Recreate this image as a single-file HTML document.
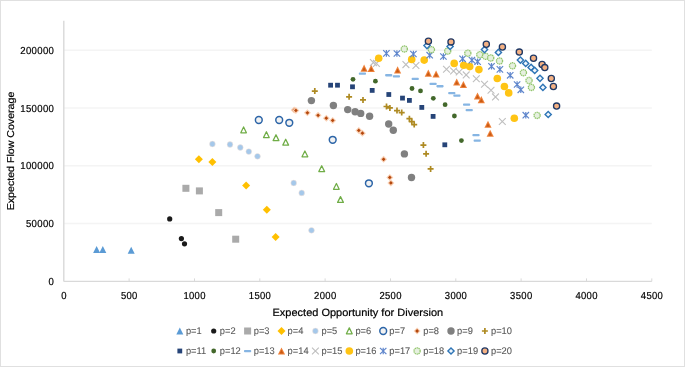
<!DOCTYPE html>
<html><head><meta charset="utf-8"><style>
html,body{margin:0;padding:0;background:#fff;}
body{width:685px;height:367px;overflow:hidden;}
svg{display:block;will-change:transform;text-rendering:geometricPrecision;font-family:"Liberation Sans",sans-serif;}
</style></head><body>
<svg width="685" height="367" viewBox="0 0 685 367">
<rect x="0" y="0" width="685" height="367" fill="#fff"/>
<rect x="0.5" y="0.5" width="684" height="366" fill="none" stroke="#E0E0E0" stroke-width="1"/>
<line x1="63.8" y1="223.6" x2="651.8" y2="223.6" stroke="#F4F4F4" stroke-width="1.5"/>
<line x1="63.8" y1="165.8" x2="651.8" y2="165.8" stroke="#F4F4F4" stroke-width="1.5"/>
<line x1="63.8" y1="108" x2="651.8" y2="108" stroke="#F4F4F4" stroke-width="1.5"/>
<line x1="63.8" y1="50.2" x2="651.8" y2="50.2" stroke="#F4F4F4" stroke-width="1.5"/>
<line x1="63.8" y1="20.8" x2="63.8" y2="281.4" stroke="#D9D9D9" stroke-width="1.4"/>
<line x1="63.8" y1="281.4" x2="651.8" y2="281.4" stroke="#D9D9D9" stroke-width="1.4"/>
<line x1="129.1" y1="278.4" x2="129.1" y2="281.4" stroke="#D9D9D9" stroke-width="1"/>
<line x1="194.5" y1="278.4" x2="194.5" y2="281.4" stroke="#D9D9D9" stroke-width="1"/>
<line x1="259.8" y1="278.4" x2="259.8" y2="281.4" stroke="#D9D9D9" stroke-width="1"/>
<line x1="325.1" y1="278.4" x2="325.1" y2="281.4" stroke="#D9D9D9" stroke-width="1"/>
<line x1="390.5" y1="278.4" x2="390.5" y2="281.4" stroke="#D9D9D9" stroke-width="1"/>
<line x1="455.8" y1="278.4" x2="455.8" y2="281.4" stroke="#D9D9D9" stroke-width="1"/>
<line x1="521.1" y1="278.4" x2="521.1" y2="281.4" stroke="#D9D9D9" stroke-width="1"/>
<line x1="586.5" y1="278.4" x2="586.5" y2="281.4" stroke="#D9D9D9" stroke-width="1"/>
<line x1="651.8" y1="278.4" x2="651.8" y2="281.4" stroke="#D9D9D9" stroke-width="1"/>
<g font-size="10.2" fill="#000" stroke="#000" stroke-width="0.2" letter-spacing="0.35">
<text transform="translate(54.2 284.9) scale(0.94 1)" text-anchor="end">0</text>
<text transform="translate(54.2 227.1) scale(0.94 1)" text-anchor="end">50000</text>
<text transform="translate(54.2 169.3) scale(0.94 1)" text-anchor="end">100000</text>
<text transform="translate(54.2 111.5) scale(0.94 1)" text-anchor="end">150000</text>
<text transform="translate(54.2 53.7) scale(0.94 1)" text-anchor="end">200000</text>
<text transform="translate(64 298.7) scale(0.93 1)" text-anchor="middle">0</text>
<text transform="translate(129.3 298.7) scale(0.93 1)" text-anchor="middle">500</text>
<text transform="translate(194.6 298.7) scale(0.93 1)" text-anchor="middle">1000</text>
<text transform="translate(260 298.7) scale(0.93 1)" text-anchor="middle">1500</text>
<text transform="translate(325.3 298.7) scale(0.93 1)" text-anchor="middle">2000</text>
<text transform="translate(390.6 298.7) scale(0.93 1)" text-anchor="middle">2500</text>
<text transform="translate(456 298.7) scale(0.93 1)" text-anchor="middle">3000</text>
<text transform="translate(521.3 298.7) scale(0.93 1)" text-anchor="middle">3500</text>
<text transform="translate(586.6 298.7) scale(0.93 1)" text-anchor="middle">4000</text>
<text transform="translate(652 298.7) scale(0.93 1)" text-anchor="middle">4500</text>
</g>
<text transform="translate(357.8 316.3) scale(1.048 1)" text-anchor="middle" font-size="10.5" fill="#000" stroke="#000" stroke-width="0.2">Expected Opportunity for Diversion</text>
<text transform="translate(14.1 151.0) rotate(-90) scale(1.062 1)" text-anchor="middle" font-size="10.0" fill="#000" stroke="#000" stroke-width="0.2">Expected Flow Coverage</text>
<path d="M96.6 246.1L100.1 253L93.1 253Z" fill="#5B9BD5"/>
<path d="M102.8 246.1L106.3 253L99.3 253Z" fill="#5B9BD5"/>
<path d="M131.2 246.8L134.7 253.7L127.7 253.7Z" fill="#5B9BD5"/>
<circle cx="169.7" cy="218.9" r="2.6" fill="#1a1a1a"/>
<circle cx="181.4" cy="238.6" r="2.6" fill="#1a1a1a"/>
<circle cx="184.5" cy="243.8" r="2.6" fill="#1a1a1a"/>
<rect x="182.4" y="184.8" width="7" height="7" fill="#AAAAAA"/>
<rect x="195.9" y="187.4" width="7" height="7" fill="#AAAAAA"/>
<rect x="215.2" y="209.1" width="7" height="7" fill="#AAAAAA"/>
<rect x="232.2" y="235.7" width="7" height="7" fill="#AAAAAA"/>
<path d="M198.9 155.3L202.9 159.3L198.9 163.3L194.9 159.3Z" fill="#FFC000"/>
<path d="M212.4 158L216.4 162L212.4 166L208.4 162Z" fill="#FFC000"/>
<path d="M246.1 181.5L250.1 185.5L246.1 189.5L242.1 185.5Z" fill="#FFC000"/>
<path d="M266.8 205.8L270.8 209.8L266.8 213.8L262.8 209.8Z" fill="#FFC000"/>
<path d="M275.6 233.1L279.6 237.1L275.6 241.1L271.6 237.1Z" fill="#FFC000"/>
<circle cx="212.4" cy="144" r="2.9" fill="#A5C8EA" stroke="#F8E4D8" stroke-width="0.5"/>
<circle cx="230" cy="144.5" r="2.9" fill="#A5C8EA" stroke="#F8E4D8" stroke-width="0.5"/>
<circle cx="240.3" cy="147.5" r="2.9" fill="#A5C8EA" stroke="#F8E4D8" stroke-width="0.5"/>
<circle cx="248.8" cy="151.6" r="2.9" fill="#A5C8EA" stroke="#F8E4D8" stroke-width="0.5"/>
<circle cx="257.5" cy="156.3" r="2.9" fill="#A5C8EA" stroke="#F8E4D8" stroke-width="0.5"/>
<circle cx="293.7" cy="183" r="2.9" fill="#A5C8EA" stroke="#F8E4D8" stroke-width="0.5"/>
<circle cx="301.7" cy="192.9" r="2.9" fill="#A5C8EA" stroke="#F8E4D8" stroke-width="0.5"/>
<circle cx="311.5" cy="230.3" r="2.9" fill="#A5C8EA" stroke="#F8E4D8" stroke-width="0.5"/>
<path d="M243.6 126.9L246.4 132.8L240.8 132.8Z" fill="#fff" stroke="#70AD47" stroke-width="1.25" stroke-linejoin="round"/>
<path d="M266.4 131.7L269.2 137.6L263.5 137.6Z" fill="#fff" stroke="#70AD47" stroke-width="1.25" stroke-linejoin="round"/>
<path d="M276 134.7L278.9 140.6L273.1 140.6Z" fill="#fff" stroke="#70AD47" stroke-width="1.25" stroke-linejoin="round"/>
<path d="M285.7 139.2L288.6 145.1L282.8 145.1Z" fill="#fff" stroke="#70AD47" stroke-width="1.25" stroke-linejoin="round"/>
<path d="M304.9 151L307.8 156.8L302 156.8Z" fill="#fff" stroke="#70AD47" stroke-width="1.25" stroke-linejoin="round"/>
<path d="M321.7 165.7L324.6 171.6L318.8 171.6Z" fill="#fff" stroke="#70AD47" stroke-width="1.25" stroke-linejoin="round"/>
<path d="M336.4 183.5L339.2 189.3L333.5 189.3Z" fill="#fff" stroke="#70AD47" stroke-width="1.25" stroke-linejoin="round"/>
<path d="M340.5 196.6L343.4 202.4L337.6 202.4Z" fill="#fff" stroke="#70AD47" stroke-width="1.25" stroke-linejoin="round"/>
<circle cx="258.8" cy="120" r="3.4" fill="#F2F2F2" stroke="#2C65A8" stroke-width="1.5"/>
<circle cx="279.2" cy="120" r="3.4" fill="#F2F2F2" stroke="#2C65A8" stroke-width="1.5"/>
<circle cx="289.3" cy="122.8" r="3.4" fill="#F2F2F2" stroke="#2C65A8" stroke-width="1.5"/>
<circle cx="332.7" cy="139.8" r="3.4" fill="#F2F2F2" stroke="#2C65A8" stroke-width="1.5"/>
<circle cx="368.9" cy="183.3" r="3.4" fill="#F2F2F2" stroke="#2C65A8" stroke-width="1.5"/>
<path d="M294.2 106.6L297.7 110.1L294.2 113.6L290.7 110.1Z" fill="#F9D0B4"/><path d="M294.2 108.2L296.1 110.1L294.2 112L292.3 110.1Z" fill="#B4470C"/>
<path d="M295.9 106.9L299.4 110.4L295.9 113.9L292.4 110.4Z" fill="#F9D0B4"/><path d="M295.9 108.5L297.8 110.4L295.9 112.3L294 110.4Z" fill="#B4470C"/>
<path d="M307.4 109.3L310.9 112.8L307.4 116.3L303.9 112.8Z" fill="#F9D0B4"/><path d="M307.4 110.9L309.3 112.8L307.4 114.7L305.5 112.8Z" fill="#B4470C"/>
<path d="M318.1 111.8L321.6 115.3L318.1 118.8L314.6 115.3Z" fill="#F9D0B4"/><path d="M318.1 113.4L320 115.3L318.1 117.2L316.2 115.3Z" fill="#B4470C"/>
<path d="M326.3 114.7L329.8 118.2L326.3 121.7L322.8 118.2Z" fill="#F9D0B4"/><path d="M326.3 116.3L328.2 118.2L326.3 120.1L324.4 118.2Z" fill="#B4470C"/>
<path d="M332.7 116.9L336.2 120.4L332.7 123.9L329.2 120.4Z" fill="#F9D0B4"/><path d="M332.7 118.5L334.6 120.4L332.7 122.3L330.8 120.4Z" fill="#B4470C"/>
<path d="M358.8 126.9L362.3 130.4L358.8 133.9L355.3 130.4Z" fill="#F9D0B4"/><path d="M358.8 128.5L360.7 130.4L358.8 132.3L356.9 130.4Z" fill="#B4470C"/>
<path d="M362.4 129.7L365.9 133.2L362.4 136.7L358.9 133.2Z" fill="#F9D0B4"/><path d="M362.4 131.3L364.3 133.2L362.4 135.1L360.5 133.2Z" fill="#B4470C"/>
<path d="M383.6 155.8L387.1 159.3L383.6 162.8L380.1 159.3Z" fill="#F9D0B4"/><path d="M383.6 157.4L385.5 159.3L383.6 161.2L381.7 159.3Z" fill="#B4470C"/>
<path d="M389.8 173.9L393.3 177.4L389.8 180.9L386.3 177.4Z" fill="#F9D0B4"/><path d="M389.8 175.5L391.7 177.4L389.8 179.3L387.9 177.4Z" fill="#B4470C"/>
<path d="M390.9 179.4L394.4 182.9L390.9 186.4L387.4 182.9Z" fill="#F9D0B4"/><path d="M390.9 181L392.8 182.9L390.9 184.8L389 182.9Z" fill="#B4470C"/>
<circle cx="311.4" cy="100.6" r="3.7" fill="#808080"/>
<circle cx="333.4" cy="105.5" r="3.7" fill="#808080"/>
<circle cx="347.7" cy="109.6" r="3.7" fill="#808080"/>
<circle cx="355.1" cy="111.7" r="3.7" fill="#808080"/>
<circle cx="360.7" cy="113.4" r="3.7" fill="#808080"/>
<circle cx="369.6" cy="116.2" r="3.7" fill="#808080"/>
<circle cx="388.7" cy="124" r="3.7" fill="#808080"/>
<circle cx="393.3" cy="130.3" r="3.7" fill="#808080"/>
<circle cx="404.4" cy="153.9" r="3.7" fill="#808080"/>
<circle cx="411.5" cy="177.5" r="3.7" fill="#808080"/>
<path d="M311.8 91.1H317.8M314.8 88.1V94.1" stroke="#AE8A22" stroke-width="1.7"/>
<path d="M346.1 96.8H352.1M349.1 93.8V99.8" stroke="#AE8A22" stroke-width="1.7"/>
<path d="M360 99.9H366M363 96.9V102.9" stroke="#AE8A22" stroke-width="1.7"/>
<path d="M383.5 106.5H389.5M386.5 103.5V109.5" stroke="#AE8A22" stroke-width="1.7"/>
<path d="M386.9 107.9H392.9M389.9 104.9V110.9" stroke="#AE8A22" stroke-width="1.7"/>
<path d="M394 110.6H400M397 107.6V113.6" stroke="#AE8A22" stroke-width="1.7"/>
<path d="M398.7 112.6H404.7M401.7 109.6V115.6" stroke="#AE8A22" stroke-width="1.7"/>
<path d="M406.4 118.7H412.4M409.4 115.7V121.7" stroke="#AE8A22" stroke-width="1.7"/>
<path d="M408.8 121.6H414.8M411.8 118.6V124.6" stroke="#AE8A22" stroke-width="1.7"/>
<path d="M411.2 124.6H417.2M414.2 121.6V127.6" stroke="#AE8A22" stroke-width="1.7"/>
<path d="M420.4 145.1H426.4M423.4 142.1V148.1" stroke="#AE8A22" stroke-width="1.7"/>
<path d="M423.1 153.8H429.1M426.1 150.8V156.8" stroke="#AE8A22" stroke-width="1.7"/>
<path d="M427.6 168.9H433.6M430.6 165.9V171.9" stroke="#AE8A22" stroke-width="1.7"/>
<rect x="328.2" y="82.8" width="4.8" height="4.8" fill="#264478"/>
<rect x="335.1" y="82.8" width="4.8" height="4.8" fill="#264478"/>
<rect x="350.1" y="84.4" width="4.8" height="4.8" fill="#264478"/>
<rect x="369.8" y="88" width="4.8" height="4.8" fill="#264478"/>
<rect x="386.4" y="92.1" width="4.8" height="4.8" fill="#264478"/>
<rect x="400.1" y="95.7" width="4.8" height="4.8" fill="#264478"/>
<rect x="407" y="98" width="4.8" height="4.8" fill="#264478"/>
<rect x="419.4" y="105" width="4.8" height="4.8" fill="#264478"/>
<rect x="430.7" y="114" width="4.8" height="4.8" fill="#264478"/>
<rect x="442.4" y="142.4" width="4.8" height="4.8" fill="#264478"/>
<circle cx="353" cy="79.3" r="2.4" fill="#43682B"/>
<circle cx="375.4" cy="81.2" r="2.4" fill="#43682B"/>
<circle cx="412" cy="88.5" r="2.4" fill="#43682B"/>
<circle cx="420.5" cy="90.9" r="2.4" fill="#43682B"/>
<circle cx="433.3" cy="98.3" r="2.4" fill="#43682B"/>
<circle cx="445.1" cy="104.7" r="2.4" fill="#43682B"/>
<circle cx="454.4" cy="116" r="2.4" fill="#43682B"/>
<circle cx="461.4" cy="140.6" r="2.4" fill="#43682B"/>
<rect x="358.8" y="72.5" width="7.2" height="2.3" rx="0.8" fill="#86B5E3"/>
<rect x="385.1" y="74.1" width="7.2" height="2.3" rx="0.8" fill="#86B5E3"/>
<rect x="392.8" y="75.2" width="7.2" height="2.3" rx="0.8" fill="#86B5E3"/>
<rect x="411.6" y="77.8" width="7.2" height="2.3" rx="0.8" fill="#86B5E3"/>
<rect x="429.5" y="82.8" width="7.2" height="2.3" rx="0.8" fill="#86B5E3"/>
<rect x="436.4" y="85.1" width="7.2" height="2.3" rx="0.8" fill="#86B5E3"/>
<rect x="448.2" y="92" width="7.2" height="2.3" rx="0.8" fill="#86B5E3"/>
<rect x="453.3" y="94.5" width="7.2" height="2.3" rx="0.8" fill="#86B5E3"/>
<rect x="463" y="103.4" width="7.2" height="2.3" rx="0.8" fill="#86B5E3"/>
<rect x="465.6" y="109" width="7.2" height="2.3" rx="0.8" fill="#86B5E3"/>
<rect x="472.4" y="133.9" width="7.2" height="2.3" rx="0.8" fill="#86B5E3"/>
<rect x="473.6" y="139.4" width="7.2" height="2.3" rx="0.8" fill="#86B5E3"/>
<path d="M364.1 64.6L367.7 71.7L360.5 71.7Z" fill="#EE8038"/><path d="M364.1 67L366 70.7L362.2 70.7Z" fill="#C95A14"/>
<path d="M371.2 64.8L374.8 71.9L367.6 71.9Z" fill="#EE8038"/><path d="M371.2 67.2L373.1 70.9L369.3 70.9Z" fill="#C95A14"/>
<path d="M397.6 66.3L401.2 73.4L394 73.4Z" fill="#EE8038"/><path d="M397.6 68.7L399.5 72.4L395.7 72.4Z" fill="#C95A14"/>
<path d="M428.3 69.6L431.9 76.7L424.7 76.7Z" fill="#EE8038"/><path d="M428.3 72L430.2 75.7L426.4 75.7Z" fill="#C95A14"/>
<path d="M436.1 70.4L439.7 77.5L432.5 77.5Z" fill="#EE8038"/><path d="M436.1 72.8L438 76.5L434.2 76.5Z" fill="#C95A14"/>
<path d="M456.7 78.5L460.3 85.6L453.1 85.6Z" fill="#EE8038"/><path d="M456.7 80.9L458.6 84.6L454.8 84.6Z" fill="#C95A14"/>
<path d="M463.4 80.9L467 88L459.8 88Z" fill="#EE8038"/><path d="M463.4 83.3L465.3 87L461.5 87Z" fill="#C95A14"/>
<path d="M477.5 92.5L481.1 99.6L473.9 99.6Z" fill="#EE8038"/><path d="M477.5 94.9L479.4 98.6L475.6 98.6Z" fill="#C95A14"/>
<path d="M481.3 96.1L484.9 103.2L477.7 103.2Z" fill="#EE8038"/><path d="M481.3 98.5L483.2 102.2L479.4 102.2Z" fill="#C95A14"/>
<path d="M488 120.7L491.6 127.8L484.4 127.8Z" fill="#EE8038"/><path d="M488 123.1L489.9 126.8L486.1 126.8Z" fill="#C95A14"/>
<path d="M490.2 129.7L493.8 136.8L486.6 136.8Z" fill="#EE8038"/><path d="M490.2 132.1L492.1 135.8L488.3 135.8Z" fill="#C95A14"/>
<path d="M370 59.2L376.8 66M376.8 59.2L370 66" stroke="#BFBFBF" stroke-width="1.1"/>
<path d="M373 60L379.8 66.8M379.8 60L373 66.8" stroke="#BFBFBF" stroke-width="1.1"/>
<path d="M402.5 61.2L409.3 68M409.3 61.2L402.5 68" stroke="#BFBFBF" stroke-width="1.1"/>
<path d="M412.5 62.1L419.3 68.9M419.3 62.1L412.5 68.9" stroke="#BFBFBF" stroke-width="1.1"/>
<path d="M443.1 65.8L449.9 72.6M449.9 65.8L443.1 72.6" stroke="#BFBFBF" stroke-width="1.1"/>
<path d="M450.2 67.6L457 74.4M457 67.6L450.2 74.4" stroke="#BFBFBF" stroke-width="1.1"/>
<path d="M455.8 68.6L462.6 75.4M462.6 68.6L455.8 75.4" stroke="#BFBFBF" stroke-width="1.1"/>
<path d="M462.8 71.5L469.6 78.3M469.6 71.5L462.8 78.3" stroke="#BFBFBF" stroke-width="1.1"/>
<path d="M472.9 75.3L479.7 82.1M479.7 75.3L472.9 82.1" stroke="#BFBFBF" stroke-width="1.1"/>
<path d="M481.1 80.8L487.9 87.6M487.9 80.8L481.1 87.6" stroke="#BFBFBF" stroke-width="1.1"/>
<path d="M487.6 86.9L494.4 93.7M494.4 86.9L487.6 93.7" stroke="#BFBFBF" stroke-width="1.1"/>
<path d="M492.1 93.5L498.9 100.3M498.9 93.5L492.1 100.3" stroke="#BFBFBF" stroke-width="1.1"/>
<path d="M498.9 118.1L505.7 124.9M505.7 118.1L498.9 124.9" stroke="#BFBFBF" stroke-width="1.1"/>
<circle cx="378.7" cy="58.3" r="3.8" fill="#FFC414"/>
<circle cx="411.7" cy="59.4" r="3.8" fill="#FFC414"/>
<circle cx="424.2" cy="60.1" r="3.8" fill="#FFC414"/>
<circle cx="454.2" cy="63.4" r="3.8" fill="#FFC414"/>
<circle cx="463.7" cy="65.2" r="3.8" fill="#FFC414"/>
<circle cx="469.7" cy="66.6" r="3.8" fill="#FFC414"/>
<circle cx="478.9" cy="69.6" r="3.8" fill="#FFC414"/>
<circle cx="497.3" cy="78.5" r="3.8" fill="#FFC414"/>
<circle cx="504.4" cy="86.5" r="3.8" fill="#FFC414"/>
<circle cx="508.7" cy="92.9" r="3.8" fill="#FFC414"/>
<circle cx="514.3" cy="118.2" r="3.8" fill="#FFC414"/>
<path d="M383.2 50.2L389.6 56.6M389.6 50.2L383.2 56.6M386.4 50.1V56.7" stroke="#5F86CC" stroke-width="1.2"/>
<path d="M393.7 50.3L400.1 56.7M400.1 50.3L393.7 56.7M396.9 50.2V56.8" stroke="#5F86CC" stroke-width="1.2"/>
<path d="M410.2 50.8L416.6 57.2M416.6 50.8L410.2 57.2M413.4 50.7V57.3" stroke="#5F86CC" stroke-width="1.2"/>
<path d="M426.5 52L432.9 58.4M432.9 52L426.5 58.4M429.7 51.9V58.5" stroke="#5F86CC" stroke-width="1.2"/>
<path d="M440.2 53.3L446.6 59.7M446.6 53.3L440.2 59.7M443.4 53.2V59.8" stroke="#5F86CC" stroke-width="1.2"/>
<path d="M459.4 55.6L465.8 62M465.8 55.6L459.4 62M462.6 55.5V62.1" stroke="#5F86CC" stroke-width="1.2"/>
<path d="M468.7 56.9L475.1 63.3M475.1 56.9L468.7 63.3M471.9 56.8V63.4" stroke="#5F86CC" stroke-width="1.2"/>
<path d="M474.4 58.5L480.8 64.9M480.8 58.5L474.4 64.9M477.6 58.4V65" stroke="#5F86CC" stroke-width="1.2"/>
<path d="M488.3 63.1L494.7 69.5M494.7 63.1L488.3 69.5M491.5 63V69.6" stroke="#5F86CC" stroke-width="1.2"/>
<path d="M496.7 66.2L503.1 72.6M503.1 66.2L496.7 72.6M499.9 66.1V72.7" stroke="#5F86CC" stroke-width="1.2"/>
<path d="M507 72.1L513.4 78.5M513.4 72.1L507 78.5M510.2 72V78.6" stroke="#5F86CC" stroke-width="1.2"/>
<path d="M513.9 81.3L520.3 87.7M520.3 81.3L513.9 87.7M517.1 81.2V87.8" stroke="#5F86CC" stroke-width="1.2"/>
<path d="M517.6 86.6L524 93M524 86.6L517.6 93M520.8 86.5V93.1" stroke="#5F86CC" stroke-width="1.2"/>
<path d="M522.6 112L529 118.4M529 112L522.6 118.4M525.8 111.9V118.5" stroke="#5F86CC" stroke-width="1.2"/>
<circle cx="404.3" cy="49" r="3.1" fill="#E6F0DF" stroke="#93C66E" stroke-width="1.3" stroke-dasharray="1.4 0.55"/>
<circle cx="431.4" cy="49.7" r="3.1" fill="#E6F0DF" stroke="#93C66E" stroke-width="1.3" stroke-dasharray="1.4 0.55"/>
<circle cx="447.7" cy="51.1" r="3.1" fill="#E6F0DF" stroke="#93C66E" stroke-width="1.3" stroke-dasharray="1.4 0.55"/>
<circle cx="467.8" cy="53.2" r="3.1" fill="#E6F0DF" stroke="#93C66E" stroke-width="1.3" stroke-dasharray="1.4 0.55"/>
<circle cx="479.8" cy="54.7" r="3.1" fill="#E6F0DF" stroke="#93C66E" stroke-width="1.3" stroke-dasharray="1.4 0.55"/>
<circle cx="485.5" cy="56.3" r="3.1" fill="#E6F0DF" stroke="#93C66E" stroke-width="1.3" stroke-dasharray="1.4 0.55"/>
<circle cx="490.7" cy="58" r="3.1" fill="#E6F0DF" stroke="#93C66E" stroke-width="1.3" stroke-dasharray="1.4 0.55"/>
<circle cx="499.5" cy="61" r="3.1" fill="#E6F0DF" stroke="#93C66E" stroke-width="1.3" stroke-dasharray="1.4 0.55"/>
<circle cx="512.5" cy="65.8" r="3.1" fill="#E6F0DF" stroke="#93C66E" stroke-width="1.3" stroke-dasharray="1.4 0.55"/>
<circle cx="523.4" cy="72.7" r="3.1" fill="#E6F0DF" stroke="#93C66E" stroke-width="1.3" stroke-dasharray="1.4 0.55"/>
<circle cx="529" cy="80.5" r="3.1" fill="#E6F0DF" stroke="#93C66E" stroke-width="1.3" stroke-dasharray="1.4 0.55"/>
<circle cx="531.4" cy="87.4" r="3.1" fill="#E6F0DF" stroke="#93C66E" stroke-width="1.3" stroke-dasharray="1.4 0.55"/>
<circle cx="537.1" cy="115.4" r="3.1" fill="#E6F0DF" stroke="#93C66E" stroke-width="1.3" stroke-dasharray="1.4 0.55"/>
<path d="M427 42.5L430.1 45.6L427 48.7L423.9 45.6Z" fill="#F0F6FC" stroke="#2E75B6" stroke-width="1.4"/>
<path d="M450.1 43.3L453.2 46.4L450.1 49.5L447 46.4Z" fill="#F0F6FC" stroke="#2E75B6" stroke-width="1.4"/>
<path d="M484.5 46.5L487.6 49.6L484.5 52.7L481.4 49.6Z" fill="#F0F6FC" stroke="#2E75B6" stroke-width="1.4"/>
<path d="M498.4 49.3L501.5 52.4L498.4 55.5L495.3 52.4Z" fill="#F0F6FC" stroke="#2E75B6" stroke-width="1.4"/>
<path d="M520.4 57L523.5 60.1L520.4 63.2L517.3 60.1Z" fill="#F0F6FC" stroke="#2E75B6" stroke-width="1.4"/>
<path d="M525.7 60.3L528.8 63.4L525.7 66.5L522.6 63.4Z" fill="#F0F6FC" stroke="#2E75B6" stroke-width="1.4"/>
<path d="M531.1 64.3L534.2 67.4L531.1 70.5L528 67.4Z" fill="#F0F6FC" stroke="#2E75B6" stroke-width="1.4"/>
<path d="M534.7 67.3L537.8 70.4L534.7 73.5L531.6 70.4Z" fill="#F0F6FC" stroke="#2E75B6" stroke-width="1.4"/>
<path d="M540 75.2L543.1 78.3L540 81.4L536.9 78.3Z" fill="#F0F6FC" stroke="#2E75B6" stroke-width="1.4"/>
<path d="M542.9 84.3L546 87.4L542.9 90.5L539.8 87.4Z" fill="#F0F6FC" stroke="#2E75B6" stroke-width="1.4"/>
<path d="M548.2 111.4L551.3 114.5L548.2 117.6L545.1 114.5Z" fill="#F0F6FC" stroke="#2E75B6" stroke-width="1.4"/>
<circle cx="428.4" cy="41.3" r="3.1" fill="#F4B183" stroke="#203864" stroke-width="1.3"/>
<circle cx="451" cy="41.9" r="3.1" fill="#F4B183" stroke="#203864" stroke-width="1.3"/>
<circle cx="486.3" cy="44.2" r="3.1" fill="#F4B183" stroke="#203864" stroke-width="1.3"/>
<circle cx="502.4" cy="47" r="3.1" fill="#F4B183" stroke="#203864" stroke-width="1.3"/>
<circle cx="519.3" cy="52.1" r="3.1" fill="#F4B183" stroke="#203864" stroke-width="1.3"/>
<circle cx="533.5" cy="58.3" r="3.1" fill="#F4B183" stroke="#203864" stroke-width="1.3"/>
<circle cx="542.1" cy="64.5" r="3.1" fill="#F4B183" stroke="#203864" stroke-width="1.3"/>
<circle cx="544.8" cy="67.6" r="3.1" fill="#F4B183" stroke="#203864" stroke-width="1.3"/>
<circle cx="551.3" cy="78.5" r="3.1" fill="#F4B183" stroke="#203864" stroke-width="1.3"/>
<circle cx="553.4" cy="86.5" r="3.1" fill="#F4B183" stroke="#203864" stroke-width="1.3"/>
<circle cx="556.6" cy="106.1" r="3.1" fill="#F4B183" stroke="#203864" stroke-width="1.3"/>
<path d="M179.8 327.5L183.3 334.4L176.3 334.4Z" fill="#5B9BD5"/>
<circle cx="213.7" cy="331" r="2.6" fill="#1a1a1a"/>
<rect x="244.1" y="327.5" width="7" height="7" fill="#AAAAAA"/>
<path d="M281.5 327L285.5 331L281.5 335L277.5 331Z" fill="#FFC000"/>
<circle cx="315.4" cy="331" r="2.9" fill="#A5C8EA" stroke="#F8E4D8" stroke-width="0.5"/>
<path d="M349.3 327.9L352.2 333.8L346.4 333.8Z" fill="#fff" stroke="#70AD47" stroke-width="1.25" stroke-linejoin="round"/>
<circle cx="383.2" cy="331" r="3.4" fill="#F2F2F2" stroke="#2C65A8" stroke-width="1.5"/>
<path d="M417.1 327.5L420.6 331L417.1 334.5L413.6 331Z" fill="#F9D0B4"/><path d="M417.1 329.1L419 331L417.1 332.9L415.2 331Z" fill="#B4470C"/>
<circle cx="451" cy="331" r="3.7" fill="#808080"/>
<path d="M481.9 331H487.9M484.9 328V334" stroke="#AE8A22" stroke-width="1.7"/>
<rect x="177.4" y="348.6" width="4.8" height="4.8" fill="#264478"/>
<circle cx="213.7" cy="351" r="2.4" fill="#43682B"/>
<rect x="244" y="349.9" width="7.2" height="2.3" rx="0.8" fill="#86B5E3"/>
<path d="M281.5 347.4L285.1 354.5L277.9 354.5Z" fill="#EE8038"/><path d="M281.5 349.8L283.4 353.5L279.6 353.5Z" fill="#C95A14"/>
<path d="M312 347.6L318.8 354.4M318.8 347.6L312 354.4" stroke="#BFBFBF" stroke-width="1.1"/>
<circle cx="349.3" cy="351" r="3.8" fill="#FFC414"/>
<path d="M380 347.8L386.4 354.2M386.4 347.8L380 354.2M383.2 347.7V354.3" stroke="#5F86CC" stroke-width="1.2"/>
<circle cx="417.1" cy="351" r="3.1" fill="#E6F0DF" stroke="#93C66E" stroke-width="1.3" stroke-dasharray="1.4 0.55"/>
<path d="M451 347.9L454.1 351L451 354.1L447.9 351Z" fill="#F0F6FC" stroke="#2E75B6" stroke-width="1.4"/>
<circle cx="484.9" cy="351" r="3.1" fill="#F4B183" stroke="#203864" stroke-width="1.3"/>
<g font-size="9.6" fill="#595959" stroke="#595959" stroke-width="0.1">
<text transform="translate(185.9 334.1) scale(0.97 1)">p=1</text>
<text transform="translate(219.8 334.1) scale(0.97 1)">p=2</text>
<text transform="translate(253.7 334.1) scale(0.97 1)">p=3</text>
<text transform="translate(287.6 334.1) scale(0.97 1)">p=4</text>
<text transform="translate(321.5 334.1) scale(0.97 1)">p=5</text>
<text transform="translate(355.4 334.1) scale(0.97 1)">p=6</text>
<text transform="translate(389.3 334.1) scale(0.97 1)">p=7</text>
<text transform="translate(423.2 334.1) scale(0.97 1)">p=8</text>
<text transform="translate(457.1 334.1) scale(0.97 1)">p=9</text>
<text transform="translate(491 334.1) scale(0.97 1)">p=10</text>
<text transform="translate(185.9 354.1) scale(0.97 1)">p=11</text>
<text transform="translate(219.8 354.1) scale(0.97 1)">p=12</text>
<text transform="translate(253.7 354.1) scale(0.97 1)">p=13</text>
<text transform="translate(287.6 354.1) scale(0.97 1)">p=14</text>
<text transform="translate(321.5 354.1) scale(0.97 1)">p=15</text>
<text transform="translate(355.4 354.1) scale(0.97 1)">p=16</text>
<text transform="translate(389.3 354.1) scale(0.97 1)">p=17</text>
<text transform="translate(423.2 354.1) scale(0.97 1)">p=18</text>
<text transform="translate(457.1 354.1) scale(0.97 1)">p=19</text>
<text transform="translate(491 354.1) scale(0.97 1)">p=20</text>
</g>
</svg>
</body></html>
